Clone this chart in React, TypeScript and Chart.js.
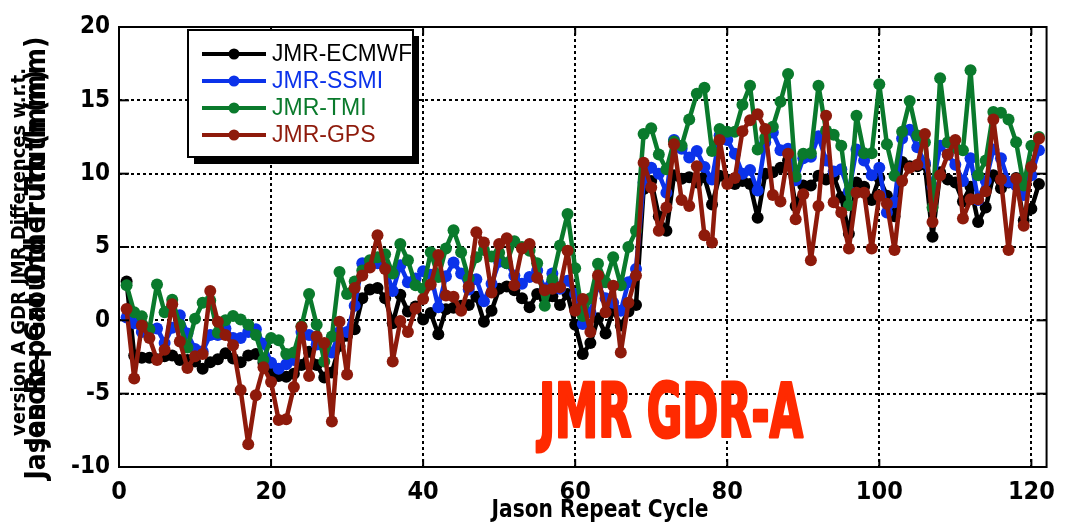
import React, { useEffect, useRef } from "react";
import { Chart, registerables } from "chart.js";
Chart.register(...registerables);

const NARROW = '"Liberation Sans Narrow", "DejaVu Sans Condensed", "Arial Narrow", sans-serif';
const REG = '"Liberation Sans", Arial, sans-serif';

const cycles = [1,2,3,4,5,6,7,8,9,10,11,12,13,14,15,16,17,18,19,20,21,22,23,24,25,26,27,28,29,30,31,32,33,34,35,36,37,38,39,40,41,42,43,44,45,46,47,48,49,50,51,52,53,54,55,56,57,58,59,60,61,62,63,64,65,66,67,68,69,70,71,72,73,74,75,76,77,78,79,80,81,82,83,84,85,86,87,88,89,90,91,92,93,94,95,96,97,98,99,100,101,102,103,104,105,106,107,108,109,110,111,112,113,114,115,116,117,118,119,120,121];

const ecmwf = [2.65,-2.4,-2.55,-2.55,-2.65,-2.45,-2.4,-2.7,-2.7,-2.8,
-3.3,-2.85,-2.65,-2.25,-2.6,-2.85,-2.4,-2.3,-2.9,-3.5,
-3.8,-3.85,-3.65,-3.05,-2.15,-3.05,-3.9,-3.55,-1.75,-1.05,
-0.6,1.5,2.1,2.2,1.5,-0.2,1.75,0.6,0.95,0.05,
0.5,-0.95,0.75,0.85,1.0,1.05,1.6,-0.1,0.65,2.15,
2.3,2.05,1.5,0.9,1.8,1.45,1.65,1.05,1.8,-0.3,
-2.3,-1.55,0.15,-0.9,0.7,-0.35,0.6,1.05,8.95,9.5,
7.1,6.1,9.9,9.65,9.75,9.4,9.75,7.9,9.85,9.6,
9.3,9.5,9.3,7.0,10.0,10.1,10.4,10.9,7.8,9.2,
9.2,9.85,9.6,9.8,8.4,5.9,9.4,9.1,8.2,9.7,
8.5,7.1,10.8,10.5,10.5,10.6,5.7,10.1,9.6,9.4,
8.1,9.1,6.7,7.7,9.9,9.0,9.4,9.7,6.8,7.6,9.3];

const ssmi = [0.2,-0.2,-0.8,-0.6,-0.55,-1.55,-0.5,0.35,-0.9,-1.95,
-2.1,-1.0,-1.0,-0.55,-1.2,-1.2,-0.8,-0.6,-1.6,-2.9,
-3.3,-3.0,-2.7,-0.8,-1.0,-1.65,-1.8,-2.2,-0.8,-0.8,
1.0,3.9,4.0,3.9,3.6,2.0,3.75,2.6,2.85,3.35,
3.1,0.9,3.0,3.95,3.2,2.1,2.8,1.3,2.5,4.0,
3.9,3.05,2.5,2.95,3.4,2.15,3.2,2.15,2.7,1.8,
-0.25,0.55,2.35,1.5,1.2,0.65,2.6,3.5,9.4,10.4,
10.0,8.7,12.3,11.7,11.1,11.55,10.45,9.6,12.6,12.3,
11.35,10.0,10.25,8.85,12.15,12.8,11.6,11.7,9.55,11.05,
11.15,12.55,10.9,10.15,10.3,8.8,11.65,10.9,9.9,10.4,
7.35,8.05,12.4,13.0,11.8,10.75,9.1,11.9,11.3,10.6,
9.5,11.05,8.2,9.5,11.65,11.05,9.45,9.2,8.55,9.9,11.6];

const tmi = [2.4,0.55,0.27,-0.6,2.45,0.55,1.4,-0.3,-1.85,0.1,
1.2,1.35,-0.85,0.0,0.3,0.05,-0.3,-1.0,-2.7,-1.2,
-1.35,-2.3,-2.2,-0.4,1.8,-0.3,-2.8,-1.1,3.3,1.8,
2.65,3.4,4.1,4.3,4.5,3.2,5.2,4.1,2.4,2.15,
4.65,2.95,4.9,6.15,4.65,2.85,4.3,4.8,4.35,4.6,
3.9,5.4,5.0,4.75,3.9,1.0,2.8,5.1,7.25,3.55,
0.3,1.5,3.85,2.6,4.3,2.4,5.0,6.1,12.7,13.1,
11.3,10.3,12.2,11.9,13.7,15.45,15.85,11.55,13.05,12.85,
12.85,14.7,16.0,11.65,12.45,13.2,14.9,16.8,9.8,11.35,
11.4,16.0,12.95,12.65,11.9,7.85,13.95,11.4,11.4,16.1,
12.0,9.85,12.85,14.95,12.6,12.15,7.7,16.5,12.15,11.75,
11.6,17.05,9.9,10.9,14.2,14.15,13.7,12.15,9.2,11.9,12.5];

const gps = [0.77,-3.97,-0.36,-1.2,-2.7,-2.0,1.1,-1.45,-3.25,-2.45,
-2.3,2.0,-0.1,-1.0,-1.7,-4.75,-8.45,-5.1,-3.2,-4.2,
-6.8,-6.75,-4.55,-0.45,-3.8,-1.1,-1.55,-6.9,-0.1,-3.7,
2.2,3.05,3.6,5.8,3.5,-2.8,-0.05,-0.8,0.8,1.45,
2.45,4.45,1.7,1.6,0.65,2.3,6.0,5.3,1.9,5.2,
5.6,2.4,4.9,5.2,2.9,2.05,2.15,2.25,4.75,0.65,
1.45,-0.8,3.05,0.55,2.35,-2.2,1.2,3.05,10.75,9.05,
6.1,7.7,12.0,8.2,7.8,10.5,5.8,5.3,12.3,9.3,
9.7,12.9,13.65,14.05,13.05,8.55,8.1,11.35,6.9,8.6,
4.1,7.8,13.95,8.05,7.35,4.9,8.7,8.7,4.9,8.5,
7.95,4.8,9.5,10.4,10.6,12.7,6.7,9.9,11.3,12.3,
6.95,8.25,8.25,8.8,13.7,9.6,4.8,9.65,6.45,10.45,12.4];

const seriesLabels = ["JMR-ECMWF", "JMR-SSMI", "JMR-TMI", "JMR-GPS"];
const seriesColors = ["#000000", "#0b32ea", "#0a7a2c", "#8e1a0b"];
const seriesData = [ecmwf, ssmi, tmi, gps];
const seriesOrder = [4, 3, 2, 1];

const xTickValues = [0, 20, 40, 60, 80, 100, 120];
const yTickValues = [-10, -5, 0, 5, 10, 15, 20];

const yTitle1 = "version A GDR JMR Differences w.r.t.";
const yTitle2a = "Jason - Ground Truth (mm)";
const yTitle2b = "Jason Repeat Other Truth (mm)";
const xTitle = "Jason Repeat Cycle";
const bigLabel = "JMR GDR-A";

const decor = {
  id: "decor",
  afterDraw(chart: any) {
    const { ctx, chartArea: a } = chart;
    const xs = chart.scales.x;
    const ys = chart.scales.y;
    const line = (x1: number, y1: number, x2: number, y2: number) => {
      ctx.beginPath();
      ctx.moveTo(x1, y1);
      ctx.lineTo(x2, y2);
      ctx.stroke();
    };
    ctx.save();
    ctx.strokeStyle = "#000";
    ctx.lineWidth = 2;
    ctx.strokeRect(a.left, a.top, a.right - a.left, a.bottom - a.top);
    for (const v of xTickValues) {
      const px = xs.getPixelForValue(v);
      line(px, a.bottom, px, a.bottom - 8);
      line(px, a.top, px, a.top + 8);
    }
    for (const v of yTickValues) {
      const py = ys.getPixelForValue(v);
      line(a.left, py, a.left + 10, py);
      line(a.right, py, a.right - 10, py);
    }

    // legend
    const lx = 188, ly = 30, lw = 225, lh = 127;
    ctx.fillStyle = "#000";
    ctx.fillRect(lx + 6, ly + 6, lw, lh + 1);
    ctx.fillStyle = "#fff";
    ctx.fillRect(lx, ly, lw, lh);
    ctx.lineWidth = 2;
    ctx.strokeRect(lx, ly, lw, lh);
    chart.data.datasets.forEach((ds: any, i: number) => {
      const y = 54 + i * 27;
      ctx.strokeStyle = ds.borderColor;
      ctx.lineWidth = 4;
      line(202, y, 266, y);
      ctx.fillStyle = ds.borderColor;
      ctx.beginPath();
      ctx.arc(234, y, 5.5, 0, Math.PI * 2);
      ctx.fill();
      ctx.font = `23px ${REG}`;
      ctx.textBaseline = "middle";
      ctx.textAlign = "left";
      ctx.fillText(ds.label, 272, y + 1, 140);
    });

    // big red label
    ctx.fillStyle = "#ff2a00";
    ctx.strokeStyle = "#ff2a00";
    ctx.lineWidth = 3;
    ctx.lineJoin = "round";
    ctx.font = `bold 74px ${NARROW}`;
    ctx.textBaseline = "alphabetic";
    ctx.textAlign = "left";
    ctx.fillText(bigLabel, 539, 437, 264);
    ctx.strokeText(bigLabel, 539, 437, 264);

    // x title
    ctx.fillStyle = "#000";
    ctx.font = `bold 24px ${NARROW}`;
    ctx.textAlign = "center";
    ctx.textBaseline = "middle";
    ctx.fillText(xTitle, 600, 511, 217);

    // y titles (overlapping, as in the original)
    ctx.save();
    ctx.translate(20, 252);
    ctx.rotate(-Math.PI / 2);
    ctx.font = `bold 20px ${NARROW}`;
    ctx.fillText(yTitle1, 0, 0, 435);
    ctx.restore();
    ctx.save();
    ctx.translate(38, 258);
    ctx.rotate(-Math.PI / 2);
    ctx.font = `bold 28px ${NARROW}`;
    ctx.fillText(yTitle2a, 0, 0, 455);
    ctx.fillText(yTitle2b, 0, 0, 455);
    ctx.restore();
    ctx.restore();
  },
};

export default function App() {
  const ref = useRef<HTMLCanvasElement | null>(null);
  useEffect(() => {
    document.body.style.margin = "0";
    const canvas = ref.current!;
    const chart = new Chart(canvas, {
      type: "line",
      data: {
        datasets: seriesData.map((vals, i) => ({
          label: seriesLabels[i],
          data: vals.map((v, k) => ({ x: cycles[k], y: v })),
          borderColor: seriesColors[i],
          backgroundColor: seriesColors[i],
          pointBackgroundColor: seriesColors[i],
          pointBorderWidth: 0,
          pointRadius: 6,
          borderWidth: 4.5,
          borderJoinStyle: "round",
          borderCapStyle: "round",
          tension: 0,
          order: seriesOrder[i],
        })),
      },
      options: {
        animation: false,
        responsive: false,
        layout: { padding: { top: 27, right: 10, left: 0, bottom: 0 } },
        plugins: { legend: { display: false }, tooltip: { enabled: false } },
        scales: {
          x: {
            type: "linear",
            min: 0,
            max: 122,
            afterBuildTicks: (s: any) => {
              s.ticks = xTickValues.map((v) => ({ value: v }));
            },
            afterFit: (s: any) => {
              s.height = 57;
            },
            grid: { color: "#000", lineWidth: 2, drawTicks: false },
            border: { display: false, dash: [3, 3] },
            ticks: {
              color: "#000",
              padding: 10,
              maxRotation: 0,
              font: { family: NARROW, size: 25, weight: "bold" },
            },
          },
          y: {
            type: "linear",
            min: -10,
            max: 20,
            afterBuildTicks: (s: any) => {
              s.ticks = yTickValues.map((v) => ({ value: v }));
            },
            afterFit: (s: any) => {
              s.width = 119;
            },
            grid: { color: "#000", lineWidth: 2, drawTicks: false },
            border: { display: false, dash: [3, 3] },
            ticks: {
              color: "#000",
              padding: 9,
              font: { family: NARROW, size: 24, weight: "bold" },
            },
          },
        },
      },
      plugins: [decor],
    });
    return () => chart.destroy();
  }, []);
  return (
    <div style={{ width: 1065, height: 524 }}>
      <canvas ref={ref} width={1065} height={524} style={{ display: "block" }} />
    </div>
  );
}
